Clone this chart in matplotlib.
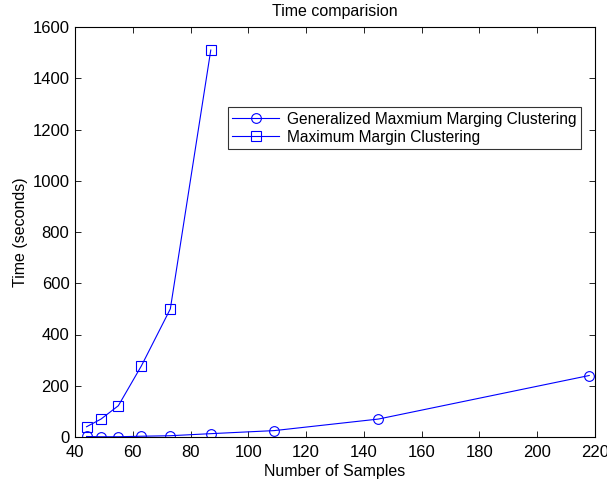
import matplotlib.pyplot as plt

# data
x_gmmc = [44, 49, 55, 63, 73, 87, 109, 145, 218]
y_gmmc = [2, 1, 1, 3, 5, 13, 25, 70, 240]
x_mmc = [44, 49, 55, 63, 73, 87]
y_mmc = [40, 70, 122, 278, 500, 1510]

plt.rcParams['font.family'] = ['Liberation Sans', 'DejaVu Sans']
plt.rcParams['font.size'] = 11

fig = plt.figure(figsize=(6.07, 4.84), dpi=100)
ax = fig.add_axes([75 / 607, 1 - 437 / 484, 520 / 607, 410 / 484])

ax.plot(x_gmmc, y_gmmc, color='blue', lw=0.8, marker='o', ms=7, mfc='none', mew=0.8,
        label='Generalized Maxmium Marging Clustering')
ax.plot(x_mmc, y_mmc, color='blue', lw=0.8, marker='s', ms=7, mfc='none', mew=0.8,
        label='Maximum Margin Clustering')

ax.set_xlim(40, 220)
ax.set_ylim(0, 1600)
ax.set_xticks(range(40, 221, 20))
ax.set_yticks(range(0, 1601, 200))
ax.tick_params(direction='in', top=True, right=True, length=4, width=0.6, labelsize=12)
ax.tick_params(axis='x', pad=6)
ax.tick_params(axis='y', pad=4)
for s in ax.spines.values():
    s.set_linewidth(0.8)

ax.set_title('Time comparision', fontsize=11.5, pad=8)
ax.set_xlabel('Number of Samples', fontsize=11.5)
ax.set_ylabel('Time (seconds)', fontsize=11.5)
ax.xaxis.set_label_coords(0.5, -0.065)
ax.yaxis.set_label_coords(-0.09, 0.5)

leg = ax.legend(loc='upper right', bbox_to_anchor=(0.973, 0.805), fontsize=11.2,
                frameon=True, fancybox=False, edgecolor='black', borderaxespad=0,
                handlelength=3, handletextpad=0.5, borderpad=0.3, labelspacing=0.2)
leg.get_frame().set_linewidth(0.8)

fig.savefig('out.png', dpi=100)
